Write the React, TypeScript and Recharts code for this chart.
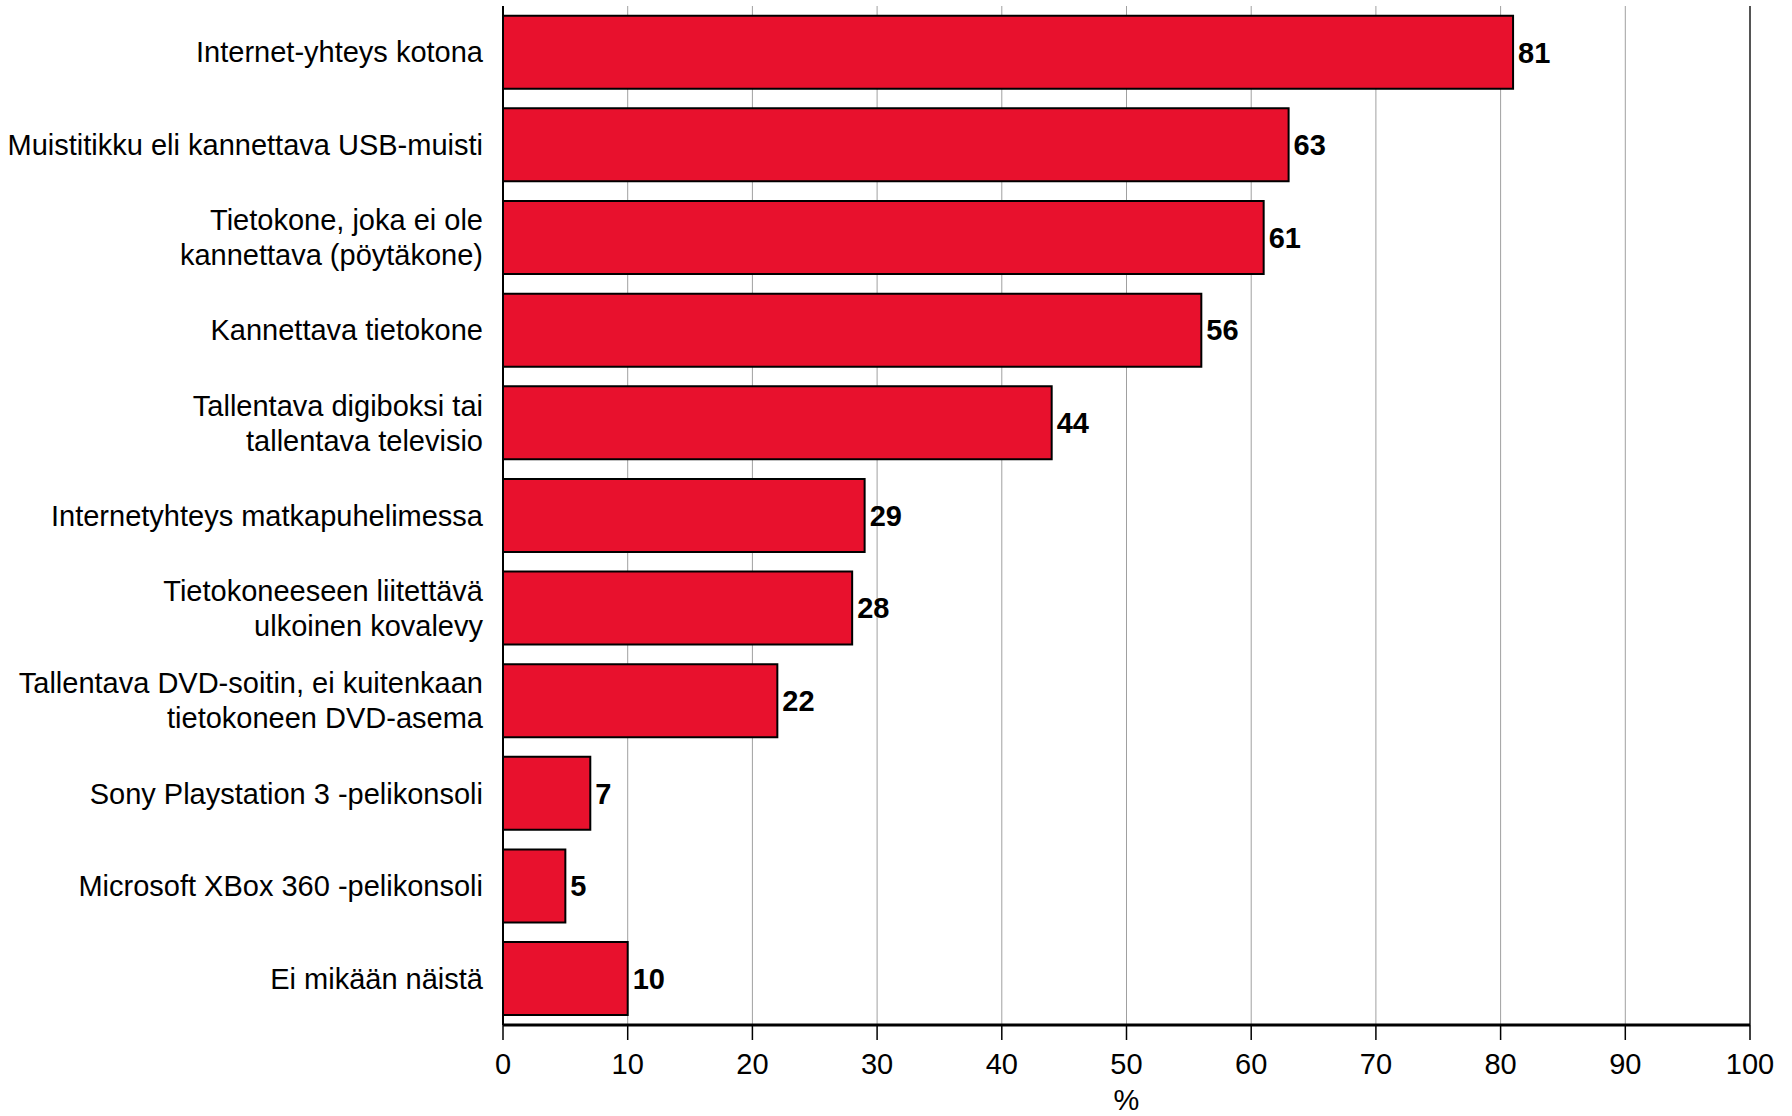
import React from 'react';
import {
  BarChart,
  Bar,
  XAxis,
  YAxis,
  CartesianGrid,
  LabelList,
  ReferenceLine,
} from 'recharts';

const categories = [
  'Internet-yhteys kotona',
  'Muistitikku eli kannettava USB-muisti',
  'Tietokone, joka ei ole\nkannettava (pöytäkone)',
  'Kannettava tietokone',
  'Tallentava digiboksi tai\ntallentava televisio',
  'Internetyhteys matkapuhelimessa',
  'Tietokoneeseen liitettävä\nulkoinen kovalevy',
  'Tallentava DVD-soitin, ei kuitenkaan\ntietokoneen DVD-asema',
  'Sony Playstation 3 -pelikonsoli',
  'Microsoft XBox 360 -pelikonsoli',
  'Ei mikään näistä',
];
const shares = [81, 63, 61, 56, 44, 29, 28, 22, 7, 5, 10];
const xTicks = [0, 10, 20, 30, 40, 50, 60, 70, 80, 90, 100];

const data = categories.map((name, i) => ({ name, value: shares[i] }));

const FONT = '"Liberation Sans", Arial, sans-serif';
const FS = 29;

const CategoryTick = ({ x, y, payload }: any) => {
  const lines = String(payload.value).split('\n');
  const lineH = 35;
  return (
    <text x={x} y={y} textAnchor="end" fontSize={FS} fontFamily={FONT} fill="#000">
      {lines.map((line, i) => (
        <tspan key={i} x={x} y={y + (i - (lines.length - 1) / 2) * lineH} dy="0.35em">
          {line}
        </tspan>
      ))}
    </text>
  );
};

export default function App() {
  return (
    <div style={{ position: 'absolute', left: 0, top: 0, background: '#fff' }}>
      <BarChart
        width={1792}
        height={1116}
        data={data}
        layout="vertical"
        margin={{ top: 6, right: 42, bottom: 0, left: 0 }}
        barCategoryGap="10.5%"
      >
        <CartesianGrid horizontal={false} stroke="#a0a0a0" strokeWidth={1} />
        <XAxis
          type="number"
          domain={[0, 100]}
          ticks={xTicks}
          interval={0}
          height={91}
          tickSize={15}
          tickMargin={13}
          axisLine={{ stroke: '#000', strokeWidth: 3 }}
          tickLine={{ stroke: '#000', strokeWidth: 1.5 }}
          tick={{ fontSize: FS, fontFamily: FONT, fill: '#000' }}
          label={{
            value: '%',
            position: 'insideBottom',
            offset: 6,
            fontSize: FS,
            fontFamily: FONT,
            fill: '#000',
          }}
        />
        <XAxis
          xAxisId="top"
          type="number"
          orientation="top"
          domain={[0, 100]}
          height={0}
          tick={false}
          tickLine={false}
          axisLine={{ stroke: '#000', strokeWidth: 2 }}
        />
        <YAxis
          type="category"
          dataKey="name"
          width={503}
          interval={0}
          tickSize={0}
          tickMargin={20}
          tickLine={false}
          axisLine={{ stroke: '#000', strokeWidth: 2 }}
          tick={<CategoryTick />}
        />
        <ReferenceLine x={100} stroke="#555" strokeWidth={2} />
        <Bar dataKey="value" fill="#E8112D" stroke="#000" strokeWidth={2} isAnimationActive={false}>
          <LabelList
            dataKey="value"
            position="right"
            offset={5}
            fontSize={FS}
            fontWeight="bold"
            fontFamily={FONT}
            fill="#000"
          />
        </Bar>
      </BarChart>
    </div>
  );
}
